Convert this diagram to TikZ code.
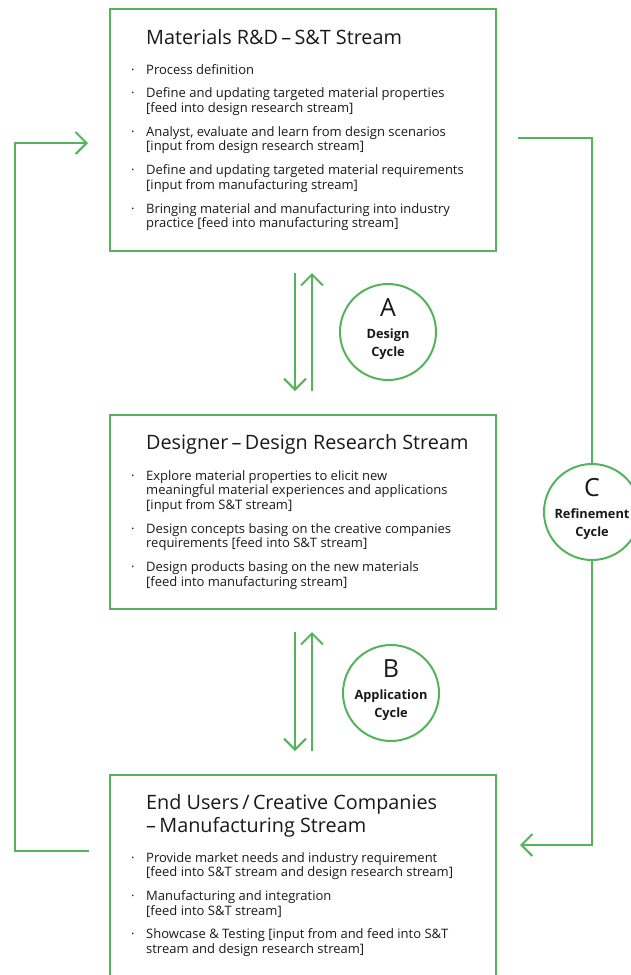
\documentclass[tikz,border=0pt]{standalone}
\usepackage{fontspec}
\setmainfont{Open Sans}
\usetikzlibrary{arrows.meta,calc}
\definecolor{grn}{RGB}{84,180,92}
\definecolor{ink}{RGB}{25,25,25}
\newcommand{\bitem}[1]{\par\hangindent=15pt\hangafter=1\noindent\makebox[15pt][l]{·}#1}
\newcommand{\blist}[1]{\parbox[t]{380pt}{\fontsize{13pt}{14.6pt}\selectfont\setlength{\parskip}{9.2pt}#1}}
\begin{document}
\begin{tikzpicture}[x=1pt,y=-1pt,
  box/.style={draw=grn,line width=2pt,minimum width=386pt,inner sep=0pt},
  obox/.style={minimum width=386pt,inner sep=0pt},
  cyc/.style={circle,draw=grn,line width=2pt,minimum size=96pt,inner sep=0pt,fill=white},
  conn/.style={draw=grn,line width=2pt},
  arr/.style={conn,-{Straight Barb[length=11pt,width=22pt,line width=2pt]}},
  ttl/.style={anchor=base west,inner sep=0pt,text=ink,font=\fontsize{19.8pt}{23pt}\selectfont},
  lst/.style={anchor=base west,inner sep=0pt,text=ink},
  cbig/.style={anchor=base,inner sep=0pt,text=ink,font=\fontsize{25pt}{25pt}\selectfont},
  csml/.style={anchor=base,inner sep=0pt,text=ink,font=\bfseries\fontsize{12.8pt}{14pt}\selectfont}
]
\useasboundingbox (0,0) rectangle (630,975);
% boxes
\node[box,minimum height=242pt] (m) at (303,130) {};
\node[box,minimum height=194pt] (d) at (303,512) {};
\node[obox,minimum height=240pt] (e) at (303,895) {};
\draw[conn] (e.south west) -- (e.north west) -- (e.north east) -- (e.south east);
% texts box 1
\node[ttl] (mt) at (146,44) {Materials R\&D\,–\,S\&T Stream};
\node[lst] (ml) at (131,74) {\blist{%
\bitem{Process definition}
\bitem{Define and updating targeted material properties\\\relax[feed into design research stream]}
\bitem{Analyst, evaluate and learn from design scenarios\\\relax[input from design research stream]}
\bitem{Define and updating targeted material requirements\\\relax[input from manufacturing stream]}
\bitem{Bringing material and manufacturing into industry\\practice [feed into manufacturing stream]}}};
% texts box 2
\node[ttl] (dt) at (146,449) {Designer\,–\,Design Research Stream};
\node[lst] (dl) at (131,480) {\blist{%
\bitem{Explore material properties to elicit new\\meaningful material experiences and applications\\\relax[input from S\&T stream]}
\bitem{Design concepts basing on the creative companies\\requirements [feed into S\&T stream]}
\bitem{Design products basing on the new materials\\\relax[feed into manufacturing stream]}}};
% texts box 3
\node[ttl,align=left,anchor=north west] (et) at (146,794) {End Users\,/\,Creative Companies\\–\,Manufacturing Stream};
\node[lst] (el) at (131,862) {\blist{%
\bitem{Provide market needs and industry requirement\\\relax[feed into S\&T stream and design research stream]}
\bitem{Manufacturing and integration\\\relax[feed into S\&T stream]}
\bitem{Showcase \& Testing [input from and feed into S\&T\\stream and design research stream]}}};
% cycle A and B
\node[cyc] (A) at (388,332) {};
\node[cbig] (Al) at ($(A)+(0,-16)$) {A};
\node[csml] (A1) at ($(A)+(0,6.5)$) {Design};
\node[csml] (A2) at ($(A)+(0,24.5)$) {Cycle};
\node[cyc] (B) at (391,693) {};
\node[cbig] (Bl) at ($(B)+(0,-16)$) {B};
\node[csml] (B1) at ($(B)+(0,6.5)$) {Application};
\node[csml] (B2) at ($(B)+(0,24.5)$) {Cycle};
% vertical arrows
\coordinate (a1) at (295,273); \coordinate (a2) at (295,391);
\coordinate (a3) at (312,391); \coordinate (a4) at (312,273);
\draw[arr] (a1) -- (a2);
\draw[arr] (a3) -- (a4);
\coordinate (b1) at (295,632); \coordinate (b2) at (295,751);
\coordinate (b3) at (312,751); \coordinate (b4) at (312,632);
\draw[arr] (b1) -- (b2);
\draw[arr] (b3) -- (b4);
% left loop
\coordinate (l1) at (89,851); \coordinate (l2) at (15,851);
\coordinate (l3) at (15,143); \coordinate (l4) at (88,143);
\draw[arr] (l1) -- (l2) -- (l3) -- (l4);
% right loop
\coordinate (r1) at (518,138); \coordinate (r2) at (592,138);
\coordinate (r3) at (592,845); \coordinate (r4) at (520,845);
\draw[arr] (r1) -- (r2) -- (r3) -- (r4);
\node[cyc] (C) at (592,512) {};
\node[cbig] (Cl) at ($(C)+(0,-16)$) {C};
\node[csml] (C1) at ($(C)+(0,6.5)$) {Refinement};
\node[csml] (C2) at ($(C)+(0,24.5)$) {Cycle};
\end{tikzpicture}
\end{document}
